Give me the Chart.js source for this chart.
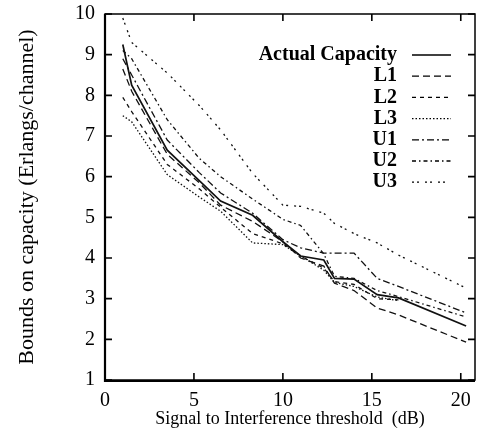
<!DOCTYPE html>
<html>
<head>
<meta charset="utf-8">
<script src="https://cdn.jsdelivr.net/npm/chart.js@4.4.1/dist/chart.umd.min.js"></script>
<style>
  body { margin: 0; background: #fff; }
</style>
</head>
<body>
<canvas id="capChart" width="479" height="437"></canvas>
<script>
// signal to interference threshold (dB)
const snr = [1, 1.5, 3.5, 5.3, 6.5, 8.3, 10, 11, 12.3, 12.9, 14, 15.3, 16.5, 20.3];

const actual = [9.25, 8.25, 6.65, 5.9, 5.4, 5.05, 4.4, 4.05, 3.95, 3.5, 3.48, 3.1, 3.02, 2.33];
const l1 = [8.65, 8.1, 6.55, 5.85, 5.3, 4.9, 4.4, 4.0, 3.8, 3.38, 3.2, 2.77, 2.6, 1.93];
const l2 = [7.95, 7.6, 6.3, 5.7, 5.25, 4.6, 4.35, 4.05, 3.75, 3.42, 3.35, 3.0, 2.97, null];
const l3 = [7.5, 7.35, 6.05, 5.5, 5.15, 4.37, 4.33, 4.05, 3.7, 3.4, 3.3, 3.04, 2.95, null];
const u1 = [8.9, 8.5, 6.9, 6.1, 5.6, 5.1, 4.45, 4.25, 4.12, 4.12, 4.12, 3.5, 3.3, 2.65];
const u2 = [9.1, 8.9, 7.4, 6.45, 6.0, 5.45, 4.95, 4.8, 4.1, 3.55, 3.5, 3.2, 3.05, 2.55];
const u3 = [9.9, 9.3, 8.55, 7.75, 7.15, 6.08, 5.3, 5.27, 5.1, 4.85, 4.6, 4.37, 4.07, 3.26];

const xTicks = [0, 5, 10, 15, 20];
const yTicks = [1, 2, 3, 4, 5, 6, 7, 8, 9, 10];

const serif = "'Liberation Serif', 'DejaVu Serif', serif";

function pts(vals) {
  return snr.map((x, i) => ({ x: x, y: vals[i] }));
}

function series(label, vals, dash, width) {
  return {
    label: label,
    data: pts(vals),
    borderColor: "#111",
    backgroundColor: "#111",
    borderWidth: width || 1.3,
    borderDash: dash,
    pointRadius: 0,
    tension: 0,
    fill: false,
  };
}

// frame, inward ticks and the legend inside the plot
const framePlugin = {
  id: "frame",
  afterDraw(chart) {
    const ctx = chart.ctx;
    const a = chart.chartArea;
    const xs = chart.scales.x;
    const ys = chart.scales.y;
    ctx.save();
    ctx.strokeStyle = "#000";
    ctx.setLineDash([]);
    ctx.lineWidth = 1.5;
    ctx.strokeRect(a.left, a.top, a.right - a.left, a.bottom - a.top);
    ctx.lineWidth = 2.2;
    ctx.beginPath();
    ctx.moveTo(a.left, a.top);
    ctx.lineTo(a.left, a.bottom + 1);
    ctx.lineTo(a.right, a.bottom + 1);
    ctx.stroke();
    ctx.lineWidth = 1.6;
    ctx.beginPath();
    xTicks.forEach((v) => {
      const px = xs.getPixelForValue(v);
      ctx.moveTo(px, a.bottom);
      ctx.lineTo(px, a.bottom - 7);
      ctx.moveTo(px, a.top);
      ctx.lineTo(px, a.top + 7);
    });
    yTicks.forEach((v) => {
      const py = ys.getPixelForValue(v);
      ctx.moveTo(a.left, py);
      ctx.lineTo(a.left + 7, py);
      ctx.moveTo(a.right, py);
      ctx.lineTo(a.right - 7, py);
    });
    ctx.stroke();

    // legend
    const textRight = a.right - 78;
    const lineX0 = a.right - 63;
    const lineX1 = a.right - 24;
    let rowY = a.top + 41;
    ctx.font = "bold 20px " + serif;
    ctx.fillStyle = "#000";
    ctx.textAlign = "right";
    ctx.textBaseline = "middle";
    chart.data.datasets.forEach((ds) => {
      ctx.fillText(ds.label, textRight, rowY);
      ctx.beginPath();
      ctx.lineWidth = ds.borderWidth;
      ctx.setLineDash(ds.borderDash || []);
      ctx.moveTo(lineX0, rowY);
      ctx.lineTo(lineX1, rowY);
      ctx.stroke();
      rowY += 21.2;
    });
    ctx.restore();
  },
};

const config = {
  type: "line",
  data: {
    datasets: [
      series("Actual Capacity", actual, [], 1.7),
      series("L1", l1, [7, 4]),
      series("L2", l2, [4, 4]),
      series("L3", l3, [1.5, 2]),
      series("U1", u1, [7, 3, 2, 3]),
      series("U2", u2, [4, 3, 1.5, 3]),
      series("U3", u3, [2, 3, 2, 6]),
    ],
  },
  options: {
    responsive: false,
    animation: false,
    layout: { padding: { left: 10, right: 4, top: 14, bottom: 4 } },
    plugins: {
      legend: { display: false },
      tooltip: { enabled: false },
    },
    scales: {
      x: {
        type: "linear",
        min: 0,
        max: 20.8,
        afterBuildTicks: (s) => {
          s.ticks = xTicks.map((v) => ({ value: v }));
        },
        afterFit: (s) => {
          s.height = 53;
          s.paddingLeft = 0;
          s.paddingRight = 0;
        },
        grid: { display: false, drawTicks: false },
        border: { display: false },
        ticks: {
          color: "#000",
          padding: 9,
          maxRotation: 0,
          font: { family: serif, size: 20 },
        },
        title: {
          display: true,
          text: "Signal to Interference threshold  (dB)",
          color: "#000",
          font: { family: serif, size: 18 },
          padding: { top: 0, bottom: 3 },
        },
      },
      y: {
        type: "linear",
        min: 1,
        max: 10,
        afterBuildTicks: (s) => {
          s.ticks = yTicks.map((v) => ({ value: v }));
        },
        afterFit: (s) => {
          s.width = 95;
          s.paddingTop = 0;
          s.paddingBottom = 0;
        },
        grid: { display: false, drawTicks: false },
        border: { display: false },
        ticks: {
          color: "#000",
          padding: 10,
          font: { family: serif, size: 20 },
        },
        title: {
          display: true,
          text: "Bounds on capacity (Erlangs/channel)",
          color: "#000",
          font: { family: serif, size: 22 },
          padding: { top: 4, bottom: 0 },
        },
      },
    },
  },
  plugins: [framePlugin],
};

new Chart(document.getElementById("capChart"), config);
</script>
</body>
</html>
